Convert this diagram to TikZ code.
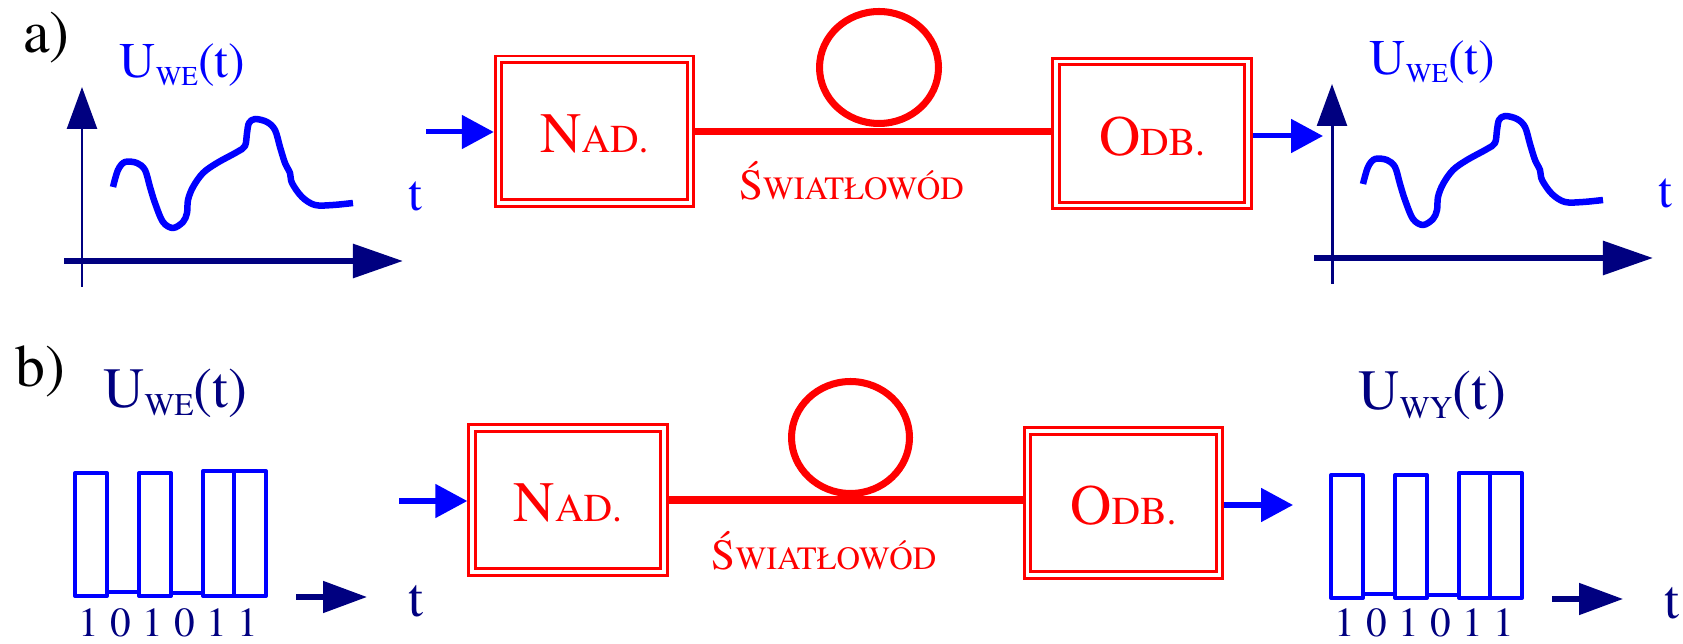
\documentclass[tikz,border=0pt]{standalone}
\usepackage[T1]{fontenc}
\usepackage{times}
\usetikzlibrary{arrows.meta}
\definecolor{sigblue}{RGB}{0,0,255}
\definecolor{navy}{RGB}{0,0,128}
\definecolor{fibred}{RGB}{255,0,0}

% font size shortcut (given size in pt)
\newcommand{\fs}[1]{\rmfamily\fontsize{#1}{#1}\selectfont}
% signal label U_xx(t): main size, subscript size, lowering, subscript
\newcommand{\Ulab}[4]{\fs{#1}U\raisebox{#3}{\fs{#2}#4}(t)}

\begin{document}
\begin{tikzpicture}[x=0.02cm,y=-0.02cm,
  unit/.style={draw=fibred, line width=1.7pt, double=white, double distance=2pt,
    minimum width=3.84cm, minimum height=2.88cm, inner sep=0pt, outer sep=2.7pt,
    text=fibred, text height=24.6pt, text depth=0pt},
  fiber/.style={draw=fibred, line width=4pt},
  feed/.style={draw=sigblue, line width=2.85pt, -{Triangle[length=18.2pt,width=18.8pt]}},
  yaxis/.style={draw=navy, line width=1.7pt, -{Triangle[length=23.9pt,width=17pt]}},
  xaxis/.style={draw=navy, line width=3.4pt, -{Triangle[length=28.5pt,width=18.8pt]}},
  taxis/.style={draw=navy, line width=2.85pt, -{Triangle[length=25pt,width=17.6pt]}},
  wave/.style={draw=sigblue, line width=3.7pt, line join=round},
  bits/.style={draw=sigblue, line width=2.3pt, line join=round},
  lbl/.style={anchor=base, inner sep=0pt},
]
\fill[white] (0,0) rectangle (1683,644);
\useasboundingbox (0,0) rectangle (1683,644);

% panel tags
\node[lbl, anchor=base west] (tagA) at (23,53) {\fs{34}a)};
\node[lbl, anchor=base west] (tagB) at (15,387) {\fs{34}b)};

% ---------- a) analogue link ----------
\foreach \dx/\dy/\k in {0/0/L,1250/-3/R}{
  \begin{scope}[shift={(\dx,\dy)}]
    \coordinate (yb\k) at (82,287);
    \coordinate (yt\k) at (82,87);
    \coordinate (xl\k) at (64,261);
    \coordinate (xr\k) at (403,261);
    \draw[yaxis] (yb\k) -- (yt\k);
    \draw[xaxis] (xl\k) -- (xr\k);
    \draw[wave] plot[smooth, tension=0.55] coordinates {
      (113,187) (118,170) (125,162) (137,163) (145,170) (150,187)
      (155,203) (163,222) (173,228) (183,222) (187,213) (188,200)
      (193,187) (203,173) (217,163) (237,152) (245,146) (247,133)
      (249,123) (255,119) (267,122) (275,130) (280,147) (285,163)
      (290,173) (292,183) (302,197) (315,205) (333,205) (353,203)};
    \node[lbl, text=sigblue] (u\k) at (182.5,78) {\Ulab{28.4}{15.5}{-4.5pt}{WE}};
    \node[lbl, text=sigblue] (t\k) at (415,211) {\fs{28.4}t};
  \end{scope}
}

\node[unit] (nadA) at (594.5,131.25) {\fs{32.5}N\fs{22.5}AD.};
\node[unit] (odbA) at (1152,133.5) {\fs{32.5}O\fs{22.5}DB.};
\draw[fiber] (nadA.east) -- (nadA.east -| odbA.west);
\draw[fiber] (879,67.5) ellipse [x radius=1.19cm, y radius=1.12cm];
\node[lbl, text=fibred] (fibA) at (851.5,200) {\fs{24.5}\'S\fs{18.5}WIAT\L{}OW\'OD};

\coordinate (inA) at (426,132);
\coordinate (outA) at (1323,136);
\draw[feed] (inA) -- (inA -| nadA.west);
\draw[feed] (odbA.east |- outA) -- (outA);

% ---------- b) digital link ----------
\foreach \dx/\dy/\k in {0/0/L,1256/2/R}{
  \begin{scope}[shift={(\dx,\dy)}]
    \draw[bits] (75,596) rectangle (107,473);
    \draw[bits] (107,592) -- (139,592);
    \draw[bits] (139,596) rectangle (171,473);
    \draw[bits] (171,593) -- (203,593);
    \draw[bits] (203,596) rectangle (234,471);
    \draw[bits] (234,596) rectangle (266,471);
    \coordinate (ts\k) at (296,597);
    \coordinate (te\k) at (367,597);
    \draw[taxis] (ts\k) -- (te\k);
    \node[lbl, text=navy] (tt\k) at (415.5,617) {\fs{30.7}t};
  \end{scope}
  % bit values under the pulse train
  \foreach \cx/\d [count=\i] in {89/1,121/0,153/1,185/0,216.5/1,248/1}
    \node[lbl, text=navy] (d\k\i) at (\cx+\dx,637) {\fs{23.5}\d};
}
\node[lbl, text=navy] (uBL) at (175.5,408) {\Ulab{32.4}{18}{-4.5pt}{WE}};
\node[lbl, text=navy] (uBR) at (1432.5,410) {\Ulab{32.4}{18}{-5pt}{WY}};

\node[unit] (nadB) at (568,500) {\fs{32.5}N\fs{22.5}AD.};
\node[unit] (odbB) at (1123.5,503) {\fs{32.5}O\fs{22.5}DB.};
\draw[fiber] (nadB.east) -- (nadB.east -| odbB.west);
\draw[fiber] (850.5,437.5) ellipse [x radius=1.18cm, y radius=1.12cm];
\node[lbl, text=fibred] (fibB) at (824,570) {\fs{24.5}\'S\fs{18.5}WIAT\L{}OW\'OD};

\coordinate (inB) at (399,501);
\coordinate (outB) at (1293,505);
\draw[feed] (inB) -- (inB -| nadB.west);
\draw[feed] (odbB.east |- outB) -- (outB);
\end{tikzpicture}
\end{document}
